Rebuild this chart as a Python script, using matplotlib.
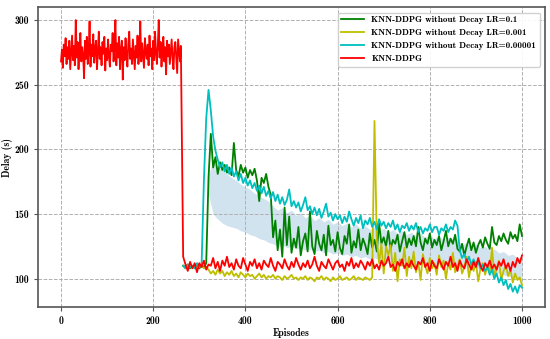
import matplotlib
matplotlib.use("Agg")
import matplotlib.pyplot as plt
import numpy as np

# first phase: all runs share the same curve, only red is visible
ep_first = np.arange(0, 261, 2)
ep_rest = np.arange(265, 1001, 5)

red_first = [268, 277, 263, 281, 272, 286, 266, 279, 270, 284,
             262, 275, 288, 269, 280, 265, 300, 271, 283, 262,
             277, 290, 268, 279, 273, 255, 284, 270, 287, 266,
             276, 299, 264, 281, 272, 289, 267, 278, 284, 262,
             275, 291, 270, 279, 265, 283, 274, 287, 261, 278,
             269, 285, 272, 264, 281, 276, 290, 268, 279, 300,
             265, 282, 271, 287, 262, 277, 284, 254, 279, 269,
             286, 273, 264, 281, 291, 270, 278, 266, 285, 274,
             262, 280, 271, 288, 266, 277, 299, 268, 282, 273,
             263, 286, 275, 270, 281, 265, 288, 272, 278, 262,
             284, 269, 291, 275, 266, 280, 300, 271, 283, 264,
             277, 287, 268, 279, 258, 284, 272, 281, 266, 276,
             285, 270, 262, 279, 283, 271, 259, 285, 276, 268,
             280]

red_rest = [117, 111, 106, 113, 108, 112, 105, 112, 109, 114,
            107, 111, 110, 116, 108, 113, 106, 114, 110, 117,
            109, 112, 107, 115, 110, 108, 116, 111, 106, 113,
            110, 115, 108, 112, 107, 114, 111, 109, 116, 110,
            106, 113, 111, 108, 115, 110, 107, 113, 109, 116,
            111, 107, 112, 109, 114, 108, 111, 117, 110, 106,
            113, 110, 108, 115, 111, 107, 112, 114, 109, 111,
            106, 113, 110, 116, 108, 112, 109, 114, 111, 107,
            113, 110, 115, 108, 111, 107, 114, 110, 112, 117,
            109, 111, 106, 113, 110, 115, 108, 112, 109, 114,
            110, 107, 113, 111, 116, 109, 112, 106, 114, 110,
            108, 115, 111, 107, 113, 110, 117, 109, 112, 106,
            114, 110, 108, 115, 111, 107, 113, 109, 116, 110,
            106, 112, 109, 114, 108, 111, 107, 113, 110, 115,
            108, 112, 106, 113, 109, 116, 112, 118]

cyan_rest = [110, 108, 111, 109, 110, 108, 112, 109, 111, 176,
             224, 246, 230, 210, 199, 192, 186, 190, 183, 188,
             181, 186, 179, 183, 176, 181, 174, 178, 172, 176,
             170, 174, 168, 172, 166, 171, 164, 168, 162, 167,
             160, 165, 158, 163, 157, 161, 169, 156, 160, 155,
             159, 152, 157, 163, 153, 156, 150, 155, 149, 154,
             147, 152, 158, 148, 151, 145, 150, 146, 149, 143,
             148, 144, 152, 146, 141, 147, 143, 149, 139, 145,
             142, 147, 140, 144, 138, 146, 141, 144, 139, 143,
             140, 145, 138, 142, 136, 141, 139, 143, 137, 141,
             138, 143, 136, 140, 135, 139, 137, 142, 136, 140,
             140, 134, 139, 137, 142, 136, 140, 138, 145, 141,
             122, 116, 119, 113, 117, 111, 115, 110, 113, 108,
             111, 106, 109, 103, 107, 100, 104, 97, 101, 95,
             99, 92, 96, 90, 94, 89, 95, 93]

green_rest = [110, 109, 111, 108, 110, 109, 111, 108, 110, 109,
              112, 178, 212, 186, 194, 181, 190, 184, 188, 182,
              186, 180, 205, 184, 179, 188, 182, 186, 178, 184,
              180, 185, 176, 160, 178, 174, 181, 171, 165, 132,
              145, 122, 138, 117, 155, 126, 148, 120, 131, 124,
              140, 118, 129, 135, 121, 152, 125, 119, 137, 127,
              122, 134, 118, 141, 126, 130, 121, 136, 124, 119,
              133, 127, 142, 120, 129, 124, 138, 122, 131, 126,
              119, 135, 124, 130, 121, 143, 127, 132, 125, 137,
              123, 130, 127, 134, 121, 129, 136, 124, 131, 126,
              133, 125, 140, 128, 122, 131, 127, 135, 124, 130,
              126, 133, 122, 129, 137, 125, 131, 127, 134, 123,
              121, 127, 118, 125, 131, 122, 128, 120, 126, 130,
              124, 132, 127, 123, 140, 128, 126, 133, 129, 135,
              130, 127, 136, 131, 134, 129, 142, 133]

yellow_rest = [110, 108, 111, 109, 110, 108, 111, 109, 110, 108,
               109, 107, 104, 106, 103, 107, 104, 106, 102, 105,
               103, 106, 102, 104, 101, 105, 103, 101, 104, 102,
               103, 100, 102, 104, 101, 103, 100, 102, 101, 103,
               100, 102, 101, 99, 102, 100, 101, 103, 100, 101,
               99, 101, 100, 102, 99, 101, 100, 98, 101, 100,
               102, 99, 101, 100, 98, 101, 99, 100, 102, 99,
               100, 101, 99, 100, 102, 99, 101, 100, 99, 101,
               100, 99, 101, 222, 130, 112, 127, 104, 125, 118,
               126, 106, 120, 98, 115, 110, 124, 102, 117, 108,
               121, 105, 113, 99, 119, 110, 104, 116, 108, 112,
               103, 118, 109, 114, 100, 112, 107, 120, 105, 110,
               115, 104, 109, 117, 101, 111, 106, 113, 98, 108,
               112, 103, 110, 105, 124, 101, 108, 114, 99, 106,
               110, 102, 107, 97, 104, 99, 101, 95]

# shaded band (light blue) behind the curves
ep_band = np.arange(320, 1001, 10)
band_hi = [180, 192, 186, 184, 181, 178, 176, 173, 171, 169,
           166, 164, 162, 160, 156, 153, 155, 151, 153, 149,
           151, 147, 149, 145, 147, 144, 146, 142, 144, 141,
           143, 140, 142, 139, 141, 138, 140, 137, 139, 136,
           138, 135, 137, 134, 136, 133, 135, 132, 134, 131,
           133, 130, 132, 131, 130, 126, 128, 125, 127, 124,
           125, 122, 123, 120, 121, 118, 119, 116, 117]
band_lo = [165, 150, 146, 143, 141, 140, 139, 137, 136, 134,
           133, 131, 130, 128, 127, 125, 126, 124, 125, 123,
           124, 122, 123, 121, 122, 120, 121, 119, 120, 118,
           119, 117, 118, 116, 117, 115, 116, 115, 116, 114,
           115, 113, 114, 113, 114, 112, 113, 111, 112, 111,
           112, 110, 111, 110, 111, 109, 110, 108, 109, 107,
           108, 106, 105, 104, 103, 102, 101, 100, 99]

labels = ["KNN-DDPG without Decay LR=0.1",
          "KNN-DDPG without Decay LR=0.001",
          "KNN-DDPG without Decay LR=0.00001",
          "KNN-DDPG"]

plt.rcParams["font.family"] = ["cmb10", "DejaVu Serif"]
plt.rcParams["axes.unicode_minus"] = False

fig = plt.figure(figsize=(5.5, 3.39), dpi=100)
ax = fig.add_axes([0.069, 0.094, 0.922, 0.885])

ax.fill_between(ep_band, band_lo, band_hi, color="#1f77b4", alpha=0.2, linewidth=0)

lw = 1.3
ax.plot(ep_rest, green_rest, color="g", linewidth=lw, label=labels[0])
ax.plot(ep_rest, yellow_rest, color="y", linewidth=lw, label=labels[1])
ax.plot(ep_rest, cyan_rest, color="c", linewidth=lw, label=labels[2])
red_x = np.concatenate([ep_first, ep_rest])
red_y = [float(v) for v in red_first] + red_rest
ax.plot(red_x, red_y, color="r", linewidth=lw, label=labels[3])

ax.set_xlim(-50, 1050)
ax.set_ylim(78, 310)
ax.set_xticks([0, 200, 400, 600, 800, 1000])
ax.set_yticks([100, 150, 200, 250, 300])
ax.tick_params(labelsize=7, length=3, width=0.8, color="#555555")
ax.set_xlabel("Episodes", fontsize=7)
ax.set_ylabel("Delay (s)", fontsize=7)
ax.xaxis.set_label_coords(0.5, -0.07)
ax.yaxis.set_label_coords(-0.05, 0.5)
ax.grid(True, linestyle="--", color="#b0b0b0", linewidth=0.7)
for s in ax.spines.values():
    s.set_color("#555555")
    s.set_linewidth(1.2)

ax.legend(loc="upper right", fontsize=6.5, framealpha=0.9, handlelength=2.5,
          borderaxespad=0.6)

fig.savefig("out.png", dpi=100)
